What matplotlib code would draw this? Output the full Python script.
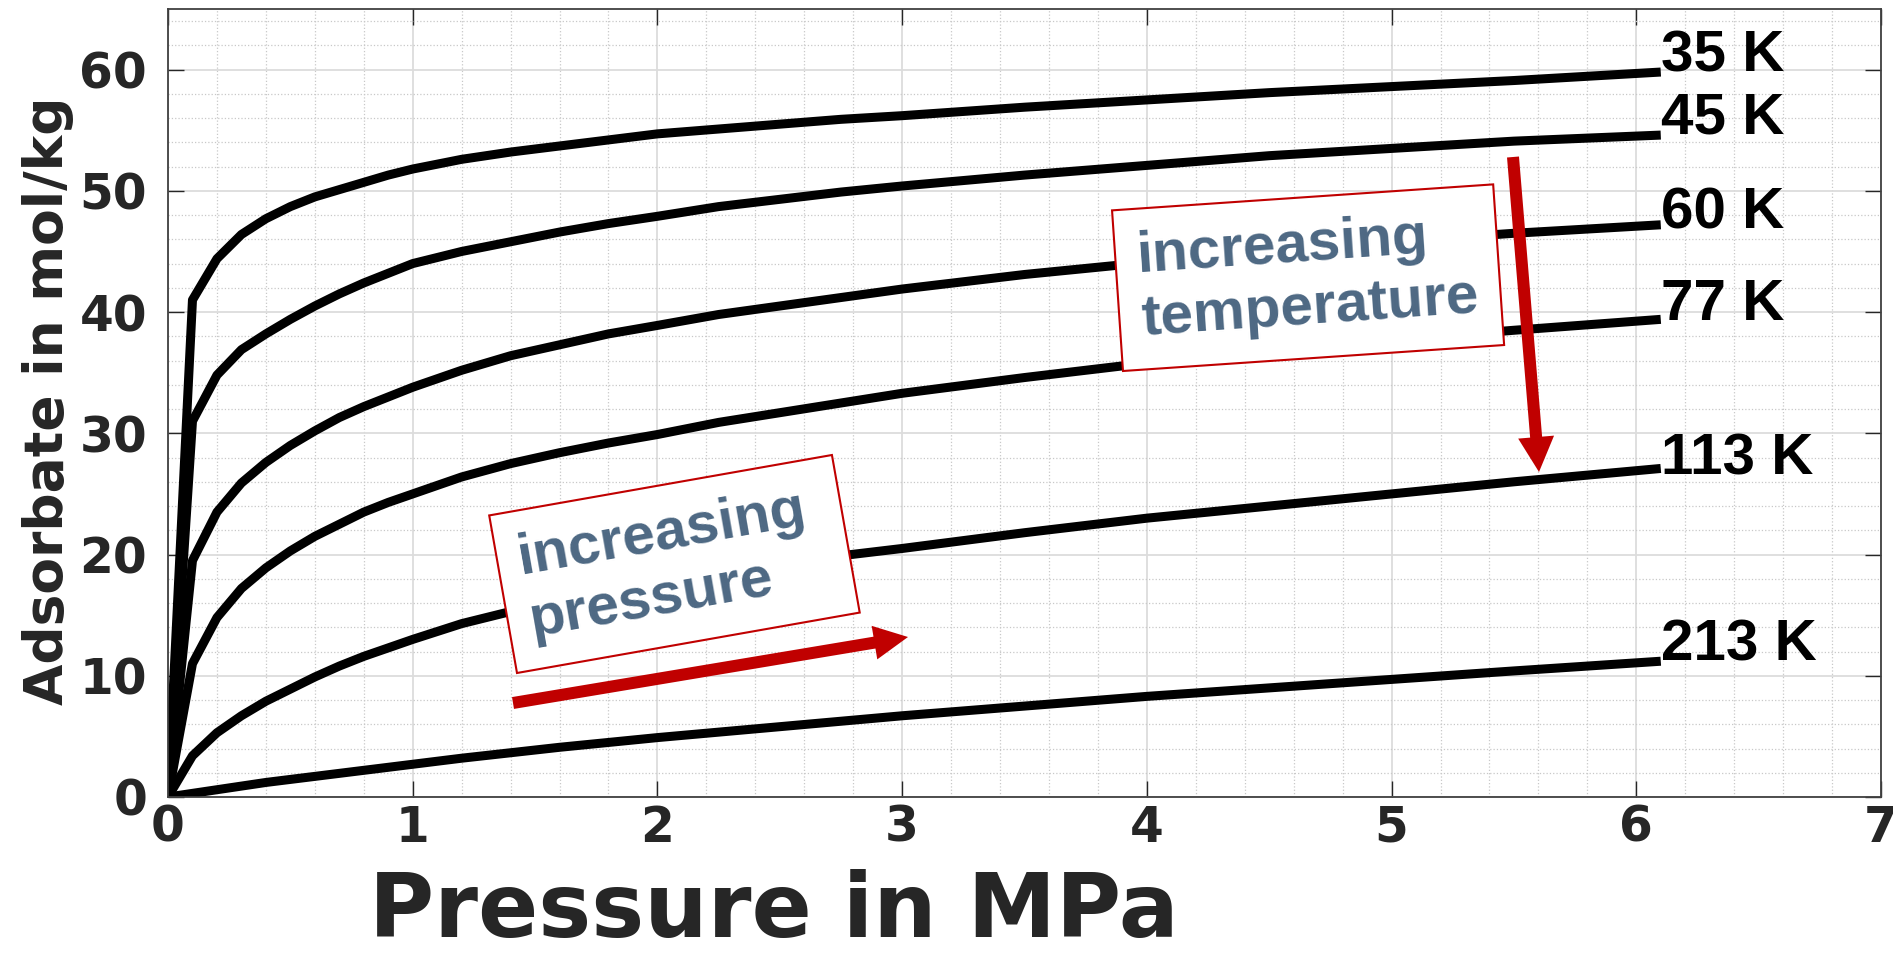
import matplotlib
matplotlib.use('Agg')
import matplotlib.pyplot as plt
from matplotlib.patches import Rectangle, FancyArrow
from matplotlib.ticker import MultipleLocator

# isothermen
pressure = [0, 0.1, 0.2, 0.3, 0.4, 0.5, 0.6, 0.7, 0.8, 0.9, 1.0,
            1.2, 1.4, 1.6, 1.8, 2.0, 2.25, 2.5, 2.75, 3.0,
            3.5, 4.0, 4.5, 5.0, 5.5, 6.1]
q_35 = [0, 41.0, 44.4, 46.4, 47.7, 48.7, 49.5, 50.1, 50.7, 51.3, 51.8,
        52.6, 53.2, 53.7, 54.2, 54.7, 55.1, 55.5, 55.9, 56.2,
        56.9, 57.5, 58.1, 58.6, 59.1, 59.8]
q_45 = [0, 31.0, 34.8, 36.9, 38.2, 39.4, 40.5, 41.5, 42.4, 43.2, 44.0,
        45.0, 45.8, 46.6, 47.3, 47.9, 48.7, 49.3, 49.9, 50.4,
        51.3, 52.1, 52.9, 53.5, 54.1, 54.6]
q_60 = [0, 19.5, 23.5, 25.9, 27.6, 29.0, 30.2, 31.3, 32.2, 33.0, 33.8,
        35.2, 36.4, 37.3, 38.2, 38.9, 39.8, 40.5, 41.2, 41.9,
        43.1, 44.1, 45.0, 45.8, 46.5, 47.2]
q_77 = [0, 11.0, 14.8, 17.2, 18.9, 20.3, 21.5, 22.5, 23.5, 24.3, 25.0,
        26.4, 27.5, 28.4, 29.2, 29.9, 30.9, 31.7, 32.5, 33.3,
        34.6, 35.8, 36.8, 37.7, 38.5, 39.4]
q_113 = [0, 3.4, 5.3, 6.7, 7.9, 8.9, 9.9, 10.8, 11.6, 12.3, 13.0,
         14.3, 15.3, 16.2, 17.0, 17.7, 18.5, 19.2, 19.9, 20.5,
         21.8, 23.0, 24.0, 25.0, 26.0, 27.1]
q_213 = [0, 0.3, 0.6, 0.9, 1.2, 1.45, 1.7, 1.95, 2.2, 2.45, 2.7,
         3.2, 3.65, 4.1, 4.5, 4.9, 5.35, 5.8, 6.25, 6.7,
         7.5, 8.3, 9.0, 9.7, 10.4, 11.2]

series = [q_35, q_45, q_60, q_77, q_113, q_213]
labels = ['35 K', '45 K', '60 K', '77 K', '113 K', '213 K']
label_y = [61.1, 56.0, 48.1, 40.6, 27.8, 12.5]

dark = '#262626'
red = '#c00000'
slate = '#4d6883'

fig = plt.figure(figsize=(18.93, 9.56), dpi=100)
ax = fig.add_axes([168/1893, 1-797/956, (1881-168)/1893, (797-9)/956])

for q in series:
    ax.plot(pressure, q, color='black', lw=6.5, solid_capstyle='butt',
            solid_joinstyle='round', zorder=2)
for lab, ly in zip(labels, label_y):
    ax.text(6.1, ly, lab, ha='left', va='center', fontsize=42, fontweight='bold',
            family='Liberation Sans', color='black', zorder=6)

ax.set_xlim(0, 7)
ax.set_ylim(0, 65)
ax.xaxis.set_major_locator(MultipleLocator(1))
ax.yaxis.set_major_locator(MultipleLocator(10))
ax.xaxis.set_minor_locator(MultipleLocator(0.2))
ax.yaxis.set_minor_locator(MultipleLocator(2))
ax.set_axisbelow(True)
ax.grid(True, which='major', color='#dcdcdc', lw=1.3, ls='-')
ax.grid(True, which='minor', color='#c8c8c8', lw=0.9, ls=':')

for s in ax.spines.values():
    s.set_color('#404040')
    s.set_linewidth(1.3)
ax.tick_params(which='major', direction='in', length=11.5, width=1, top=True,
               right=True, color=dark, labelcolor=dark, labelsize=35)
ax.tick_params(which='minor', length=0)
ax.tick_params(axis='x', pad=5)
ax.tick_params(axis='y', pad=15)
for t in ax.get_xticklabels() + ax.get_yticklabels():
    t.set_fontweight('bold')

fig.text(774/1893, 0.0, 'Pressure in MPa', ha='center', va='bottom',
         fontsize=64, fontweight='bold', color=dark)
fig.text(48/1893, 1-401/956, 'Adsorbate in mol/kg', rotation=90, ha='center',
         va='center', fontsize=38.5, fontweight='bold', color=dark)

# kaesten + pfeile (in zoll)
tr = fig.dpi_scale_trans
ax.add_patch(Rectangle((5.17, 2.83), 3.48, 1.60, angle=10, transform=tr,
                       fc='white', ec=red, lw=1.5, clip_on=False, zorder=3))
ax.text(6.675, 3.908, 'increasing\npressure', transform=tr, rotation=10,
        rotation_mode='anchor', ha='center', va='center', multialignment='left',
        fontsize=42, fontweight='bold', family='Liberation Sans', color=slate, zorder=4)
ax.add_patch(Rectangle((11.23, 5.85), 3.82, 1.61, angle=3.9, transform=tr,
                       fc='white', ec=red, lw=1.5, clip_on=False, zorder=3))
ax.text(13.08, 6.79, 'increasing\ntemperature', transform=tr, rotation=3.9,
        rotation_mode='anchor', ha='center', va='center', multialignment='left',
        fontsize=42, fontweight='bold', family='Liberation Sans', color=slate, zorder=4)

ax.add_patch(FancyArrow(5.13, 2.53, 9.08-5.13, 3.19-2.53, width=0.12,
                        head_width=0.34, head_length=0.34, length_includes_head=True,
                        transform=tr, color=red, lw=0, clip_on=False, zorder=5))
ax.add_patch(FancyArrow(15.13, 7.99, 15.39-15.13, 4.84-7.99, width=0.12,
                        head_width=0.36, head_length=0.35, length_includes_head=True,
                        transform=tr, color=red, lw=0, clip_on=False, zorder=5))

fig.savefig('out.png', dpi=100)
